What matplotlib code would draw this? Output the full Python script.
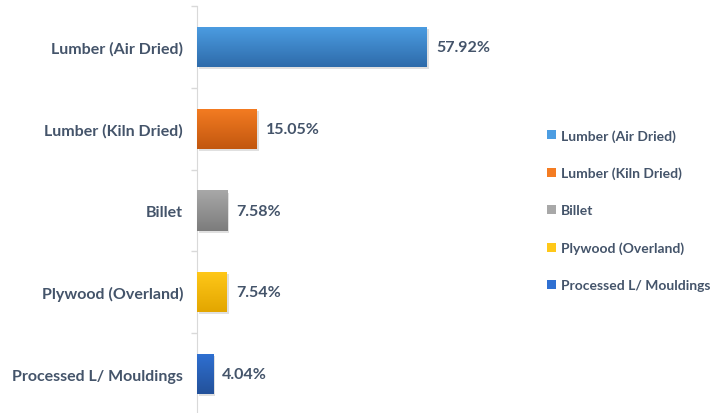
import numpy as np
import matplotlib
matplotlib.use("Agg")
import matplotlib.pyplot as plt
import matplotlib.patheffects as pe
from matplotlib.colors import LinearSegmentedColormap
from matplotlib.patches import Patch

categories = ["Lumber (Air Dried)", "Lumber (Kiln Dried)", "Billet",
              "Plywood (Overland)", "Processed L/ Mouldings"]
shares = [57.92, 15.05, 7.58, 7.54, 4.04]
top_colors = ["#4C9DE2", "#F47C22", "#A8A8A8", "#FFC819", "#2F70D2"]
bottom_colors = ["#2E6BAA", "#C2570F", "#7C7C7C", "#E3A600", "#23519A"]
text_color = "#44546A"

plt.rcParams["font.family"] = ["Lato", "DejaVu Sans"]
plt.rcParams["font.weight"] = "bold"

fig = plt.figure(figsize=(7.24, 4.14), dpi=100)
ax = fig.add_axes([197 / 724, -2 / 414, (520 - 197) / 724, (414 - 5) / 414])

y = np.arange(len(categories))
h = 0.49
bars = ax.barh(y, shares, height=h, color=top_colors, zorder=2)
ax.set_xlim(0, (520 - 197) / 3.97)
ax.set_ylim(len(categories) - 0.5, -0.5)

# vertical gradient inside each bar, plus a soft shadow
grad = np.linspace(0, 1, 100).reshape(-1, 1)
for bar, c1, c2 in zip(bars, top_colors, bottom_colors):
    bar.set_path_effects([pe.SimplePatchShadow(offset=(1.5, -1.5), shadow_rgbFace="#000000",
                                                alpha=0.12), pe.Normal()])
    cmap = LinearSegmentedColormap.from_list("g", [c1, c2])
    x0, yb, w, hh = bar.get_x(), bar.get_y(), bar.get_width(), bar.get_height()
    im = ax.imshow(grad, cmap=cmap, aspect="auto", extent=[x0, x0 + w, yb + hh, yb],
                   zorder=3)
    im.set_clip_path(bar)

for yi, v in zip(y, shares):
    ax.text(v + 2.3, yi, f"{v:.2f}%", va="center", ha="left", fontsize=11.5,
            color=text_color, fontweight="bold")

ax.set_yticks(y)
ax.set_yticklabels(categories, fontsize=11.5, color=text_color, fontweight="bold")
ax.set_yticks(np.arange(-0.5, len(categories), 1), minor=True)
ax.tick_params(axis="y", which="major", length=0, pad=10)
ax.tick_params(axis="y", which="minor", length=4, color="#D9D9D9", width=1)
ax.set_xticks([])
for s in ["top", "right", "bottom"]:
    ax.spines[s].set_visible(False)
ax.spines["left"].set_color("#D9D9D9")
ax.set_facecolor("none")

handles = [Patch(facecolor=c, label=l) for c, l in zip(top_colors, categories)]
leg = fig.legend(handles=handles, loc="center left", bbox_to_anchor=(541 / 724, 0.49),
                 frameon=False, fontsize=10, labelspacing=1.8, handlelength=0.65,
                 handleheight=0.65, handletextpad=0.4, borderaxespad=0)
for t in leg.get_texts():
    t.set_color(text_color)
    t.set_fontweight("bold")

fig.savefig("out.png", dpi=100)
